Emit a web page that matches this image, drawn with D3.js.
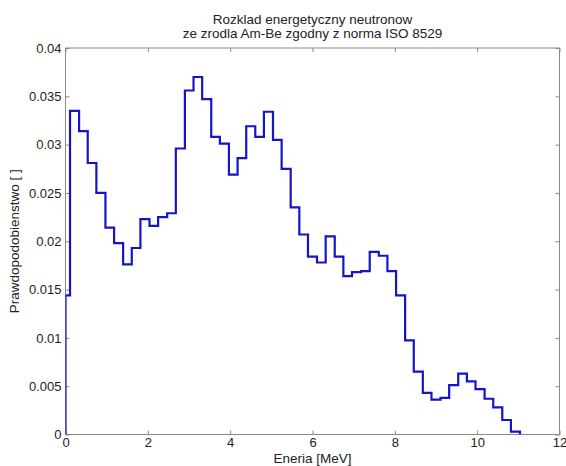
<!DOCTYPE html>
<html>
<head>
<meta charset="utf-8">
<script src="https://cdn.jsdelivr.net/npm/d3@7"></script>
<style>
  html, body { margin: 0; padding: 0; background: #fff; }
  svg { display: block; }
  text { font-family: "Liberation Sans", Arial, Helvetica, sans-serif; fill: #222; }
</style>
</head>
<body>
<svg id="chart" width="566" height="466"></svg>
<script>
// Bin lower edges (MeV), last entry is the upper edge of the last bin
const binEdges = [0, 0.11, 0.33, 0.54, 0.75, 0.97, 1.18, 1.40, 1.61, 1.82, 2.04, 2.25, 2.47, 2.68,
  2.90, 3.11, 3.32, 3.54, 3.75, 3.97, 4.18, 4.39, 4.61, 4.82, 5.04, 5.25, 5.47, 5.68, 5.89,
  6.11, 6.32, 6.54, 6.75, 6.96, 7.18, 7.39, 7.61, 7.82, 8.03, 8.25, 8.46, 8.68, 8.89, 9.11,
  9.32, 9.54, 9.75, 9.96, 10.18, 10.39, 10.61, 10.82, 11.04];
// Probability per bin
const binProb = [0.0144, 0.0335, 0.0314, 0.0281, 0.0250, 0.0214, 0.0198, 0.0176, 0.0193, 0.0223,
  0.0216, 0.0225, 0.0229, 0.0296, 0.0356, 0.0370, 0.0347, 0.0308, 0.0301, 0.0269, 0.0286,
  0.0319, 0.0308, 0.0334, 0.0305, 0.0275, 0.0235, 0.0207, 0.0184, 0.0178, 0.0205, 0.0184,
  0.0164, 0.0168, 0.0169, 0.0189, 0.0185, 0.0169, 0.0144, 0.00975, 0.0065, 0.0043, 0.0036,
  0.0038, 0.0051, 0.0063, 0.0055, 0.0047, 0.0037, 0.0028, 0.0015, 0.0003];
const xTicks = [0, 2, 4, 6, 8, 10, 12];
const yTicks = [0, 0.005, 0.01, 0.015, 0.02, 0.025, 0.03, 0.035, 0.04];
const yTickLabels = ["0", "0.005", "0.01", "0.015", "0.02", "0.025", "0.03", "0.035", "0.04"];
const titleLines = ["Rozklad energetyczny neutronow", "ze zrodla Am-Be zgodny z norma ISO 8529"];
const xLabel = "Eneria [MeV]";
const yLabel = "Prawdopodobienstwo [ ]";

const svg = d3.select("#chart");
const L = 65.5, R = 559.5, T = 48, B = 434.5;
const x = d3.scaleLinear().domain([0, 12]).range([L, R]);
const y = d3.scaleLinear().domain([0, 0.04]).range([B, T]);

const axisColor = "#8a8a8a";
const tickLen = 4;

// frame
svg.append("rect").attr("x", L).attr("y", T).attr("width", R - L).attr("height", B - T)
  .attr("fill", "none").attr("stroke", axisColor).attr("stroke-width", 1);

// bottom axis
const gx = svg.append("g").attr("transform", `translate(0,${B})`)
  .call(d3.axisBottom(x).tickValues(xTicks).tickFormat(d3.format("d")).tickSizeInner(-tickLen).tickSizeOuter(0).tickPadding(3));
// top ticks
const gxt = svg.append("g").attr("transform", `translate(0,${T})`)
  .call(d3.axisTop(x).tickValues(xTicks).tickFormat("").tickSizeInner(-tickLen).tickSizeOuter(0));
// left axis
const gy = svg.append("g").attr("transform", `translate(${L},0)`)
  .call(d3.axisLeft(y).tickValues(yTicks).tickFormat((d, i) => yTickLabels[i]).tickSizeInner(-tickLen).tickSizeOuter(0).tickPadding(4));
// right ticks
const gyr = svg.append("g").attr("transform", `translate(${R},0)`)
  .call(d3.axisRight(y).tickValues(yTicks).tickFormat("").tickSizeInner(-tickLen).tickSizeOuter(0));

[gx, gxt, gy, gyr].forEach(g => {
  g.select(".domain").remove();
  g.selectAll(".tick line").attr("stroke", axisColor);
  g.selectAll(".tick text").attr("fill", "#222").style("font-size", "13px")
    .style("font-family", "'Liberation Sans', Arial, sans-serif");
});
gx.selectAll(".tick text").attr("dy", "0.71em");

// stairs path
let d = `M${x(binEdges[0])},${y(0)}`;
binProb.forEach((v, i) => {
  d += `V${y(v)}H${x(binEdges[i + 1])}`;
});
d += `V${y(0)}`;
svg.append("defs").append("clipPath").attr("id", "clip")
  .append("rect").attr("x", L).attr("y", T - 2).attr("width", R - L).attr("height", B - T + 2);
svg.append("path").attr("d", d).attr("fill", "none").attr("stroke", "#1414c8")
  .attr("stroke-width", 2.2).attr("stroke-linejoin", "miter").attr("clip-path", "url(#clip)");

// title
svg.append("text").attr("x", (L + R) / 2).attr("y", 24).attr("text-anchor", "middle")
  .style("font-size", "13.5px").text(titleLines[0]);
svg.append("text").attr("x", (L + R) / 2).attr("y", 37.5).attr("text-anchor", "middle")
  .style("font-size", "13.5px").text(titleLines[1]);

// axis labels
svg.append("text").attr("x", (L + R) / 2).attr("y", 462.5).attr("text-anchor", "middle")
  .style("font-size", "13.5px").text(xLabel);
svg.append("text").attr("transform", `translate(19,${(T + B) / 2}) rotate(-90)`)
  .attr("text-anchor", "middle").style("font-size", "13.5px").text(yLabel);
</script>
</body>
</html>
